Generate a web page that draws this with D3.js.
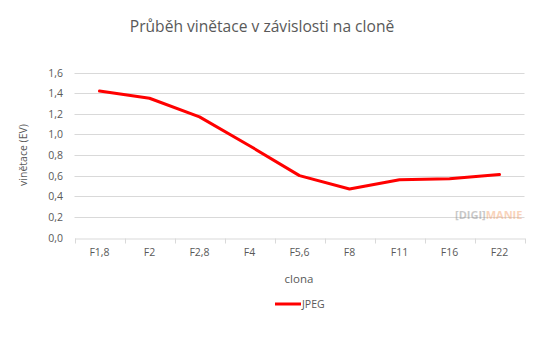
<!DOCTYPE html>
<html>
<head>
<meta charset="utf-8">
<script src="https://cdn.jsdelivr.net/npm/d3@7"></script>
<style>
body { margin: 0; background: #fff; }
text { font-family: "Open Sans", "Noto Sans", sans-serif; fill: #595959; }
</style>
</head>
<body>
<div id="vis"></div>
<script>
const categories = ["F1,8", "F2", "F2,8", "F4", "F5,6", "F8", "F11", "F16", "F22"];
const jpegValues = [1.42, 1.35, 1.17, 0.89, 0.60, 0.47, 0.56, 0.57, 0.61];
const yTicks = [0, 0.2, 0.4, 0.6, 0.8, 1.0, 1.2, 1.4, 1.6];

const W = 548, H = 339;
const svg = d3.select("#vis").append("svg").attr("width", W).attr("height", H);

const x = d3.scaleBand().domain(categories).range([74.5, 524.5]);
const y = d3.scaleLinear().domain([0, 1.6]).range([237.5, 72.5]);

// title
svg.append("text")
  .attr("x", 262).attr("y", 32)
  .attr("text-anchor", "middle")
  .attr("font-size", "15.6px")
  .text("Průběh vinětace v závislosti na cloně");

// gridlines
svg.append("g").selectAll("line")
  .data(yTicks.slice(1))
  .enter().append("line")
  .attr("x1", 74.5).attr("x2", 524.5)
  .attr("y1", d => Math.round(y(d)) + 0.5).attr("y2", d => Math.round(y(d)) + 0.5)
  .attr("stroke", "#d9d9d9");

// y labels
svg.append("g").selectAll("text")
  .data(yTicks)
  .enter().append("text")
  .attr("x", 63).attr("y", d => y(d) + 4)
  .attr("text-anchor", "end")
  .attr("font-size", "10.5px")
  .text(d => d3.format(".1f")(d).replace(".", ","));

// x axis
const xAxis = d3.axisBottom(x).tickSize(0).tickPadding(10);
const gx = svg.append("g").attr("transform", "translate(0," + (Math.round(y(0)) + 0.5) + ")").call(xAxis);
gx.select(".domain").attr("stroke", "#d9d9d9");
gx.selectAll("text").attr("font-size", "10.5px").attr("font-family", "Open Sans").attr("fill", "#595959");
// boundary ticks
const bounds = categories.map(c => x(c)).concat([x.range()[1]]);
gx.selectAll(".bt").data(bounds).enter().append("line")
  .attr("x1", d => Math.round(d) + 0.5).attr("x2", d => Math.round(d) + 0.5)
  .attr("y1", 0).attr("y2", 5).attr("stroke", "#d9d9d9");

// axis titles
svg.append("text")
  .attr("transform", "translate(27,155) rotate(-90)")
  .attr("text-anchor", "middle")
  .attr("font-size", "10.5px")
  .text("vinětace (EV)");
svg.append("text")
  .attr("x", 299).attr("y", 283)
  .attr("text-anchor", "middle")
  .attr("font-size", "11.5px")
  .text("clona");

// line
const line = d3.line()
  .x((d, i) => x(categories[i]) + x.bandwidth() / 2)
  .y(d => y(d));
svg.append("path")
  .datum(jpegValues)
  .attr("d", line)
  .attr("fill", "none")
  .attr("stroke", "#ff0000")
  .attr("stroke-width", 3)
  .attr("stroke-linejoin", "round")
  .attr("stroke-linecap", "round");

// legend
svg.append("line")
  .attr("x1", 275).attr("x2", 301).attr("y1", 304).attr("y2", 304)
  .attr("stroke", "#ff0000").attr("stroke-width", 3);
svg.append("text")
  .attr("x", 302).attr("y", 308)
  .attr("font-size", "10.5px")
  .text("JPEG");

// watermark
const wm = svg.append("text").attr("x", 455).attr("y", 219).attr("font-size", "11px")
  .attr("font-weight", "bold").attr("font-family", "DejaVu Sans").attr("opacity", 0.45);
wm.append("tspan").attr("fill", "#888").text("[DIGI]");
wm.append("tspan").attr("fill", "#f2a06a").text("MANIE");
</script>
</body>
</html>
